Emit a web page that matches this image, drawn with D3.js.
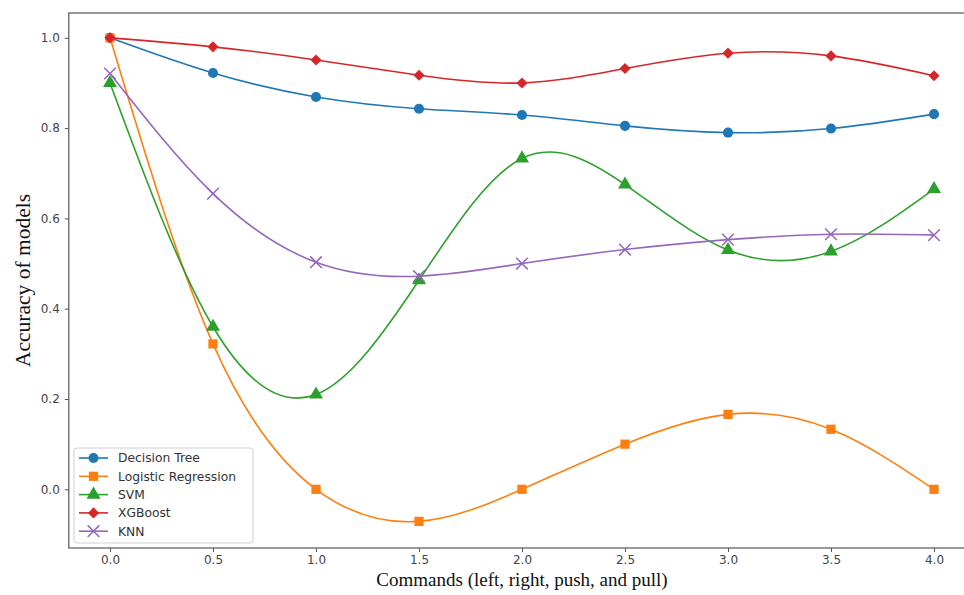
<!DOCTYPE html>
<html>
<head>
<meta charset="utf-8">
<script src="https://cdn.jsdelivr.net/npm/d3@7"></script>
<style>
  body { margin: 0; background: #fff; }
  svg { display: block; }
</style>
</head>
<body>
<script>
// commands on the x axis
const commands = [0, 0.5, 1.0, 1.5, 2.0, 2.5, 3.0, 3.5, 4.0]

const decisionTree = [1.0, 0.922, 0.869, 0.843, 0.829, 0.805, 0.790, 0.799, 0.831]
const logisticRegression = [1.0, 0.322, 0.0, -0.071, 0.0, 0.100, 0.166, 0.133, 0.0]
const svm = [0.900, 0.360, 0.210, 0.463, 0.733, 0.675, 0.530, 0.527, 0.665]
const xgboost = [1.0, 0.980, 0.951, 0.917, 0.900, 0.932, 0.966, 0.960, 0.916]
const knn = [0.921, 0.655, 0.503, 0.472, 0.500, 0.531, 0.553, 0.565, 0.563]

const seriesNames = ["Decision Tree", "Logistic Regression", "SVM", "XGBoost", "KNN"]
const seriesValues = [decisionTree, logisticRegression, svm, xgboost, knn]
const seriesColors = ["#1f77b4", "#ff7f0e", "#2ca02c", "#d62728", "#9467bd"]

const xTicks = [0, 0.5, 1.0, 1.5, 2.0, 2.5, 3.0, 3.5, 4.0]
const yTicks = [0, 0.2, 0.4, 0.6, 0.8, 1.0]

const width = 964
const height = 595
const margin = {top: 13, bottom: 47}

const x = d3.scaleLinear().domain([-0.2, 4.2]).range([68.8, 975.2])
const y = d3.scaleLinear().domain([-0.13, 1.055]).range([height - margin.bottom, margin.top])

const svg = d3.select("body").append("svg")
  .attr("width", width)
  .attr("height", height)

svg.append("rect")
  .attr("width", width).attr("height", height)
  .attr("fill", "#fff")

// frame
svg.append("rect")
  .attr("x", x(-0.2))
  .attr("y", y(1.055))
  .attr("width", x(4.2) - x(-0.2))
  .attr("height", y(-0.13) - y(1.055))
  .attr("fill", "none")
  .attr("stroke", "#555")
  .attr("stroke-width", 1.2)

const xAxis = svg.append("g")
  .attr("transform", `translate(0,${y(-0.13)})`)
  .call(d3.axisBottom(x).tickValues(xTicks).tickFormat(d3.format(".1f")).tickSize(4).tickPadding(3))
const yAxis = svg.append("g")
  .attr("transform", `translate(${x(-0.2)},0)`)
  .call(d3.axisLeft(y).tickValues(yTicks).tickFormat(d3.format(".1f")).tickSize(4).tickPadding(5))

for (const ax of [xAxis, yAxis]) {
  ax.select(".domain").remove()
  ax.selectAll(".tick line").attr("stroke", "#555").attr("stroke-width", 1)
  ax.selectAll(".tick text")
    .attr("fill", "#444")
    .attr("font-family", "DejaVu Sans, sans-serif")
    .attr("font-size", 12)
}

svg.append("text")
  .attr("x", x(2))
  .attr("y", 586)
  .attr("text-anchor", "middle")
  .attr("font-family", "Liberation Serif, Times New Roman, serif")
  .attr("font-size", 19)
  .attr("fill", "#111")
  .text("Commands (left, right, push, and pull)")

svg.append("text")
  .attr("transform", `translate(30,${(y(-0.13) + y(1.055)) / 2}) rotate(-90)`)
  .attr("text-anchor", "middle")
  .attr("font-family", "Liberation Serif, Times New Roman, serif")
  .attr("font-size", 21.5)
  .attr("fill", "#111")
  .text("Accuracy of models")

const line = d3.line()
  .x((d, i) => x(commands[i]))
  .y(d => y(d))
  .curve(d3.curveNatural)

const symbols = [
  {type: d3.symbolCircle, size: 80, rotate: 0},
  {type: d3.symbolSquare, size: 85, rotate: 0},
  {type: d3.symbolTriangle, size: 85, rotate: 0},
  {type: d3.symbolSquare, size: 62, rotate: 45},
  {type: d3.symbolX, size: 90, rotate: 0}
]

function drawMarker(g, k, cx, cy) {
  const s = symbols[k]
  const p = g.append("path")
    .attr("d", d3.symbol().type(s.type).size(s.size)())
    .attr("transform", `translate(${cx},${cy}) rotate(${s.rotate})`)
  if (s.type === d3.symbolX) {
    p.attr("fill", "none").attr("stroke", seriesColors[k]).attr("stroke-width", 1.5)
  } else {
    p.attr("fill", seriesColors[k])
  }
}

const plot = svg.append("g")

seriesValues.forEach((vals, k) => {
  const g = plot.append("g")
  g.append("path")
    .attr("d", line(vals))
    .attr("fill", "none")
    .attr("stroke", seriesColors[k])
    .attr("stroke-width", 1.6)
  vals.forEach((v, i) => drawMarker(g, k, x(commands[i]), y(v)))
})

// legend
const legend = svg.append("g").attr("transform", "translate(74,448)")
legend.append("rect")
  .attr("width", 179).attr("height", 95)
  .attr("rx", 3)
  .attr("fill", "#fff")
  .attr("fill-opacity", 0.8)
  .attr("stroke", "#d0d0d0")

seriesNames.forEach((name, k) => {
  const yy = 10 + k * 18.3
  legend.append("line")
    .attr("x1", 5).attr("x2", 34)
    .attr("y1", yy).attr("y2", yy)
    .attr("stroke", seriesColors[k])
    .attr("stroke-width", 1.6)
  drawMarker(legend, k, 19.5, yy)
  legend.append("text")
    .attr("x", 44)
    .attr("y", yy)
    .attr("dy", "0.35em")
    .attr("font-family", "DejaVu Sans, sans-serif")
    .attr("font-size", 12.3)
    .attr("fill", "#333")
    .text(name)
})
</script>
</body>
</html>
